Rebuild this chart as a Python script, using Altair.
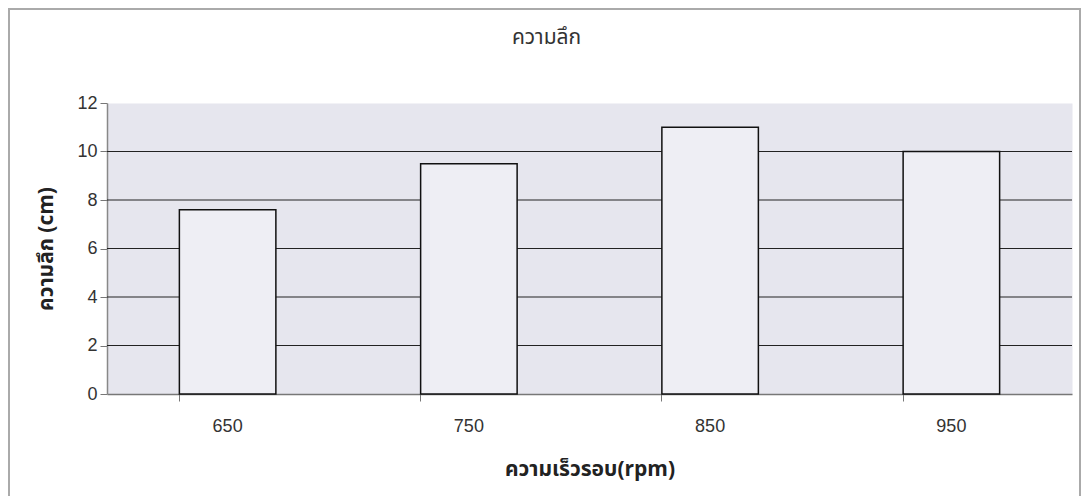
import altair as alt
import pandas as pd

rpm = ["650", "750", "850", "950"]
depth = [7.6, 9.5, 11.0, 10.0]
grid_levels = [2, 4, 6, 8, 10]

df = pd.DataFrame({"rpm": rpm, "depth": depth})
gdf = pd.DataFrame({"level": grid_levels})

FONT = "Noto Sans Thai, Tahoma, Liberation Sans, Arial, sans-serif"
NUM = "Liberation Sans, Arial, sans-serif"

W, H = 965, 291

xenc = alt.X(
    "rpm:N", sort=rpm,
    scale=alt.Scale(paddingInner=0.6, paddingOuter=0.3),
    axis=alt.Axis(
        title="ความเร็วรอบ(rpm)", labelAngle=0, bandPosition=0,
        labelFontSize=18, labelColor="#333", labelPadding=16, labelFont=NUM,
        titleFontSize=21, titleFontWeight="bold", titleColor="#222", titlePadding=23, titleFont=FONT,
        tickSize=7, tickColor="#777", domainColor="#777", domainWidth=1.5, grid=False,
    ),
)

yscale = alt.Scale(domain=[0, 12], nice=False)

frame = alt.Chart(gdf).mark_rect(fill="transparent", stroke="#aaa", strokeWidth=2).encode(
    x=alt.value(-98), x2=alt.value(W + 8), y=alt.value(-94), y2=alt.value(H + 106)
)

rules = alt.Chart(gdf).mark_rule(color="#222", strokeWidth=1.2).encode(
    y=alt.Y("level:Q", scale=yscale)
)

bars = alt.Chart(df).mark_bar(fill="#eeeef4", stroke="#111", strokeWidth=1.5).encode(
    x=xenc,
    y=alt.Y(
        "depth:Q", scale=yscale,
        axis=alt.Axis(
            title="ความลึก (cm)", values=[0, 2, 4, 6, 8, 10, 12], grid=False,
            labelFontSize=18, labelColor="#333", labelPadding=3, labelFont=NUM,
            titleFontSize=21, titleFontWeight="bold", titleColor="#222", titlePadding=20, titleFont=FONT,
            tickSize=7, tickColor="#777", domainColor="#888", domainWidth=1.5,
        ),
    ),
)

chart = alt.layer(frame, rules, bars).properties(
    width=W, height=H,
    title=alt.TitleParams("ความลึก", fontSize=21, fontWeight="normal", font=FONT, color="#333",
                          offset=-61, dx=-43, frame="group", baseline="bottom"),
    autosize=alt.AutoSizeParams(type="none"),
    padding={"left": 99, "top": 95, "right": 9, "bottom": 102},
    background="white",
).configure_view(fill="#e6e6ee", stroke="transparent")

chart.save("out.html", embed_options={"renderer": "svg", "actions": False})
